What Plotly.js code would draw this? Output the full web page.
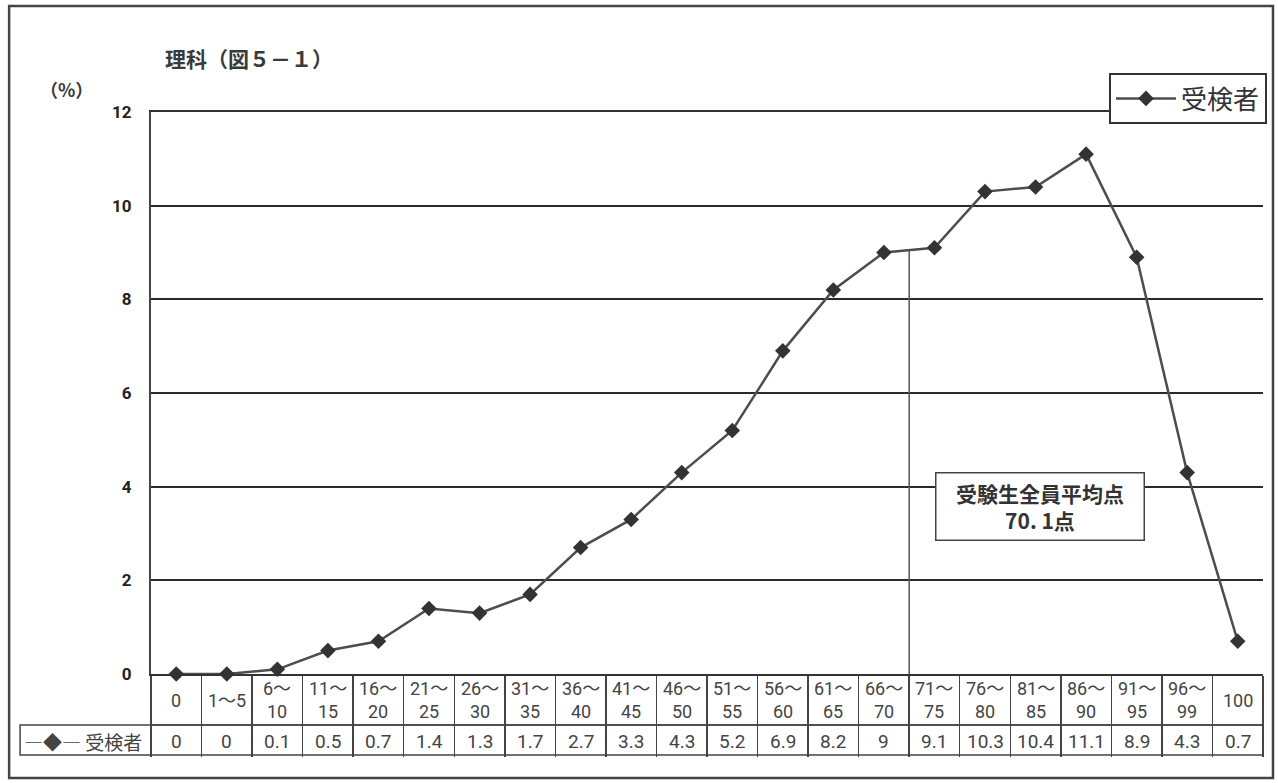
<!DOCTYPE html>
<html>
<head>
<meta charset="utf-8">
<script src="https://cdn.plot.ly/plotly-3.0.1.min.js"></script>
<style>html,body{margin:0;padding:0;background:#fff;}#chart{width:1278px;height:783px;}</style>
</head>
<body>
<div id="chart"></div>
<script>
// ---- data ----
const categories = ['0','1-5','6-10','11-15','16-20','21-25','26-30','31-35','36-40','41-45','46-50',
  '51-55','56-60','61-65','66-70','71-75','76-80','81-85','86-90','91-95','96-99','100'];
const headerLabels = ['0','1～5','6～<br>10','11～<br>15','16～<br>20','21～<br>25','26～<br>30','31～<br>35',
  '36～<br>40','41～<br>45','46～<br>50','51～<br>55','56～<br>60','61～<br>65','66～<br>70','71～<br>75',
  '76～<br>80','81～<br>85','86～<br>90','91～<br>95','96～<br>99','100'];
const examinees = [0,0,0.1,0.5,0.7,1.4,1.3,1.7,2.7,3.3,4.3,5.2,6.9,8.2,9,9.1,10.3,10.4,11.1,8.9,4.3,0.7];
const yTicks = [0,2,4,6,8,10,12];
const seriesName = '受検者';
const meanScore = '70. 1';
const meanAfterCategory = '66-70';

// ---- layout helpers (pixel -> paper) ----
const L = 151, R = 1264, T = 112, B = 674;
const px = x => (x - L) / (R - L);
const py = y => (B - y) / (B - T);

const CJK = 'Noto Sans CJK JP, sans-serif';
const NARROW = 'Liberation Sans Narrow, Roboto, Noto Sans CJK JP, sans-serif';
const INK = '#3a3a3a';

const trace = {
  type: 'scatter', mode: 'lines+markers',
  x: categories, y: examinees, name: seriesName,
  line: {color: '#4d4d4d', width: 2.5},
  marker: {symbol: 'diamond', size: 12, color: '#333'},
  cliponaxis: false
};

const annotations = [];
categories.forEach((c, i) => {
  annotations.push({xref: 'x', yref: 'paper', x: i, y: py(700), text: headerLabels[i],
    showarrow: false, xanchor: 'center', yanchor: 'middle',
    font: {family: NARROW, size: 18, color: '#444'}});
  annotations.push({xref: 'x', yref: 'paper', x: i, y: py(741), text: String(examinees[i]),
    showarrow: false, xanchor: 'center', yanchor: 'middle',
    font: {family: NARROW, size: 19, color: '#444'}});
});
// legend cell of table
annotations.push({xref: 'paper', yref: 'paper', x: px(83), y: py(741), text: '―◆― 受検者',
  showarrow: false, xanchor: 'center', yanchor: 'middle',
  font: {family: CJK, size: 19, color: '#444'}});
// (%)
annotations.push({xref: 'paper', yref: 'paper', x: px(66), y: py(89), text: '（%）',
  showarrow: false, xanchor: 'center', yanchor: 'middle',
  font: {family: CJK, size: 18, color: INK, weight: 'bold'}});
// mean box
annotations.push({xref: 'paper', yref: 'paper', x: px(1041), y: py(506), text: '受験生全員平均点<br>' + meanScore + '点',
  showarrow: false, xanchor: 'center', yanchor: 'middle', align: 'center',
  width: 205, height: 64, bgcolor: '#fff', bordercolor: '#444', borderwidth: 1.5,
  font: {family: CJK, size: 21, color: '#333', weight: 'bold'}});

const meanIdx = categories.indexOf(meanAfterCategory);
const shapes = [
  // mean vertical line
  {type: 'line', xref: 'x', yref: 'y', x0: meanIdx + 0.5, x1: meanIdx + 0.5, y0: 0,
   y1: (examinees[meanIdx] + examinees[meanIdx + 1]) / 2, line: {color: '#555', width: 1.5}},
  // table horizontal lines
  {type: 'line', xref: 'paper', yref: 'paper', x0: 0, x1: 1, y0: py(725), y1: py(725), line: {color: '#444', width: 1.5}},
  {type: 'rect', xref: 'paper', yref: 'paper', x0: px(20), x1: 1, y0: py(755), y1: py(725), line: {color: '#444', width: 1.5}},
  // outer frame
  {type: 'rect', xref: 'paper', yref: 'paper', x0: px(9), x1: px(1274), y0: py(778), y1: py(6), line: {color: '#444', width: 2.5}}
];

const layout = {
  width: 1278, height: 783,
  margin: {l: L, r: 1278 - R, t: T, b: 783 - B},
  paper_bgcolor: '#fff', plot_bgcolor: '#fff',
  title: {text: '理科（図５－１）', x: 165 / 1278, xanchor: 'left', y: 1 - 60 / 783, yanchor: 'middle',
    font: {family: CJK, size: 21, color: INK, weight: 'bold'}},
  showlegend: true,
  legend: {x: px(1267), xanchor: 'right', y: py(73), yanchor: 'top', bgcolor: '#fff',
    bordercolor: '#333', borderwidth: 2, itemwidth: 60,
    font: {family: CJK, size: 26, color: '#333'}},
  xaxis: {type: 'category', range: [-0.5, categories.length - 0.5], showgrid: false, zeroline: false,
    showline: true, mirror: true, linecolor: '#333', linewidth: 2,
    tickson: 'boundaries', ticks: 'outside', ticklen: 81, tickwidth: 1.5, tickcolor: '#444',
    showticklabels: false, fixedrange: true},
  yaxis: {range: [0, 12], tickvals: yTicks, showgrid: true, gridcolor: '#2a2a2a', gridwidth: 2,
    zeroline: false, showline: true, linecolor: '#444', linewidth: 2, ticks: '',
    ticklabelstandoff: 14,
    tickfont: {family: NARROW, size: 17, color: '#222', weight: 'bold'}, fixedrange: true},
  annotations: annotations,
  shapes: shapes
};

Plotly.newPlot('chart', [trace], layout, {displayModeBar: false, staticPlot: true});
</script>
</body>
</html>
